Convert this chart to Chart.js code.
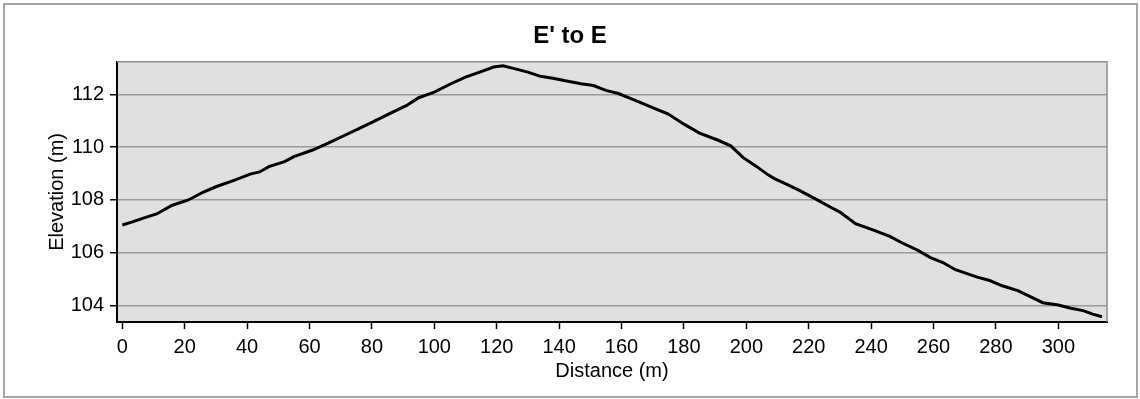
<!DOCTYPE html>
<html lang="en">
  <head>
    <meta charset="UTF-8" />
    <title>E' to E</title>
    <script src="https://cdn.jsdelivr.net/npm/chart.js@4.4.1/dist/chart.umd.min.js"></script>
    <style>
      body {
        margin: 0;
        padding: 0;
        background: #fff;
      }
    </style>
  </head>
  <body>
    <canvas id="chart" width="1140" height="399"></canvas>

    <script>
      // profile: distance (m) and elevation (m)
      const distance = [
        0, 3, 7, 11, 16, 21, 26, 30, 36, 41, 44, 47, 52, 55, 61, 66, 71, 76,
        80, 86, 91, 95, 100, 105, 110, 115, 119, 122, 125, 130, 134, 138, 142,
        147, 151, 155, 159, 164, 169, 175, 180, 185, 191, 195, 199, 203, 207,
        209, 213, 217, 222, 226, 230, 235, 241, 246, 250, 255, 259, 263, 267,
        274, 278, 282, 287, 291, 295, 300, 304, 308, 311, 314,
      ];
      const elevation = [
        107.05, 107.16, 107.32, 107.47, 107.8, 107.99, 108.3, 108.5, 108.75,
        108.98, 109.06, 109.26, 109.45, 109.64, 109.89, 110.15, 110.43, 110.71,
        110.94, 111.29, 111.57, 111.87, 112.08, 112.38, 112.65, 112.86, 113.03,
        113.08, 112.99, 112.84, 112.68, 112.61, 112.51, 112.4, 112.33, 112.15,
        112.03, 111.79, 111.54, 111.25, 110.87, 110.53, 110.26, 110.05, 109.6,
        109.29, 108.95, 108.81, 108.59, 108.36, 108.05, 107.79, 107.54, 107.1,
        106.85, 106.62, 106.37, 106.09, 105.82, 105.63, 105.36, 105.08, 104.95,
        104.75, 104.57, 104.34, 104.11, 104.02, 103.9, 103.81, 103.68, 103.58,
      ];
      const titleText = "E' to E";
      const xTitle = "Distance (m)";
      const yTitle = "Elevation (m)";

      const points = distance.map((d, i) => ({ x: d, y: elevation[i] }));
      const font = 'Arial, "Liberation Sans", sans-serif';

      // grey plot background, grey top/right frame and outer border
      const frame = {
        id: "frame",
        beforeDraw(chart) {
          const c = chart.ctx;
          const a = chart.chartArea;
          c.save();
          c.fillStyle = "#e0e0e0";
          c.fillRect(a.left, a.top, a.right - a.left, a.bottom - a.top);
          c.strokeStyle = "#a6a6a6";
          c.lineWidth = 2;
          c.strokeRect(4, 4, chart.width - 7, chart.height - 6);
          c.restore();
        },
        beforeDatasetsDraw(chart) {
          const c = chart.ctx;
          const a = chart.chartArea;
          c.save();
          c.strokeStyle = "#8c8c8c";
          c.lineWidth = 1.5;
          c.beginPath();
          c.moveTo(a.left, a.top);
          c.lineTo(a.right, a.top);
          c.lineTo(a.right, a.bottom);
          c.stroke();
          c.restore();
        },
      };

      const ctx = document.getElementById("chart").getContext("2d");
      const myChart = new Chart(ctx, {
        type: "line",
        data: {
          datasets: [
            {
              data: points,
              borderColor: "#000",
              borderWidth: 3,
              pointRadius: 0,
              tension: 0,
            },
          ],
        },
        options: {
          responsive: false,
          animation: false,
          layout: { padding: 0 },
          plugins: {
            legend: { display: false },
            tooltip: { enabled: false },
            title: {
              display: true,
              text: titleText,
              color: "#000",
              font: { family: font, size: 24, weight: "bold" },
              padding: { top: 22, bottom: 11 },
            },
          },
          scales: {
            x: {
              type: "linear",
              min: -1.7,
              max: 315.6,
              afterFit: (s) => {
                s.height = 77;
              },
              ticks: {
                stepSize: 20,
                includeBounds: false,
                color: "#000",
                padding: 6,
                maxRotation: 0,
                font: { family: font, size: 20 },
              },
              grid: {
                drawOnChartArea: false,
                tickLength: 7,
                tickColor: "#000",
                tickWidth: 1.5,
              },
              border: { color: "#000", width: 2 },
              title: {
                display: true,
                text: xTitle,
                color: "#000",
                font: { family: font, size: 20 },
                padding: { top: 0, bottom: 16 },
              },
            },
            y: {
              min: 103.38,
              max: 113.23,
              afterFit: (s) => {
                s.width = 117;
              },
              ticks: {
                stepSize: 2,
                includeBounds: false,
                color: "#000",
                padding: 6,
                font: { family: font, size: 20 },
              },
              grid: {
                color: "#9a9a9a",
                lineWidth: 1.5,
                tickLength: 7,
                tickColor: "#000",
                tickWidth: 1.5,
              },
              border: { color: "#000", width: 2 },
              title: {
                display: true,
                text: yTitle,
                color: "#000",
                font: { family: font, size: 20 },
                padding: { top: 45, bottom: 0 },
              },
            },
            // empty right margin so the chart title stays centred on the page
            yRight: {
              position: "right",
              min: 103.38,
              max: 113.23,
              afterFit: (s) => {
                s.width = 33;
              },
              ticks: { display: false },
              grid: { display: false },
              border: { display: false },
            },
          },
        },
        plugins: [frame],
      });
    </script>
  </body>
</html>
